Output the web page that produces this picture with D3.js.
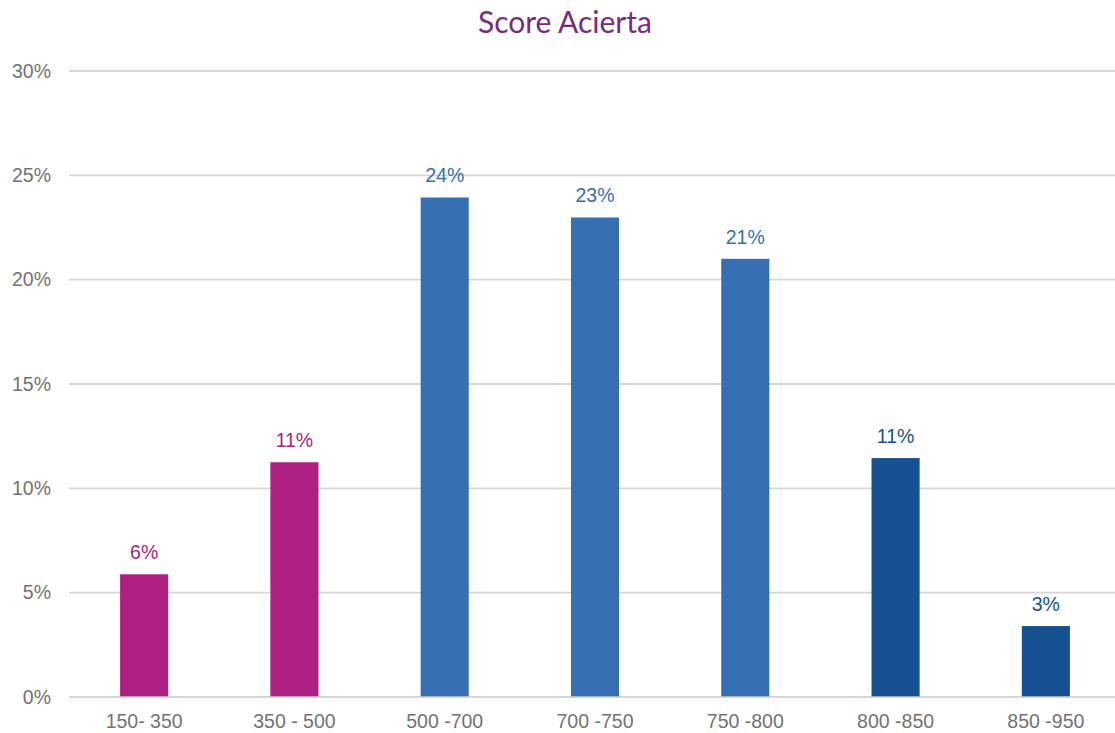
<!DOCTYPE html>
<html>
<head>
<meta charset="utf-8">
<script src="https://cdn.jsdelivr.net/npm/d3@7"></script>
<style>
  body { margin: 0; background: #fff; }
  svg { display: block; }
</style>
</head>
<body>
<div id="chart"></div>
<script>
// chart data
var categories = ['150- 350', '350 - 500', '500 -700', '700 -750', '750 -800', '800 -850', '850 -950'];
var values = [0.0588, 0.1125, 0.2394, 0.2298, 0.2100, 0.1145, 0.034];
var groups = ['low', 'low', 'mid', 'mid', 'mid', 'high', 'high'];
var yTicks = [0, 0.05, 0.10, 0.15, 0.20, 0.25, 0.30];

var width = 1115, height = 733;
var colorScale = d3.scaleOrdinal()
    .domain(['low', 'mid', 'high'])
    .range(['#ae2082', '#3670b3', '#175192']);

var svg = d3.select('#chart').append('svg')
    .attr('width', width)
    .attr('height', height);

var xScale = d3.scaleBand()
    .domain(categories)
    .range([69, 1121])
    .paddingInner(0.68)
    .paddingOuter(0.34);
var yScale = d3.scaleLinear()
    .domain([0, 0.30])
    .range([697, 71]);

// title
svg.append('text')
    .attr('x', 565)
    .attr('y', 33)
    .attr('text-anchor', 'middle')
    .style('font-family', 'Lato, "Open Sans", sans-serif')
    .style('font-size', '30px')
    .style('fill', '#7b2a83')
    .text('Score Acierta');

// grid lines
svg.append('g')
    .selectAll('line')
    .data(yTicks)
    .enter()
    .append('line')
    .attr('x1', 69)
    .attr('x2', 1115)
    .attr('y1', function(d){ return yScale(d); })
    .attr('y2', function(d){ return yScale(d); })
    .attr('stroke', '#d6d6d6')
    .attr('stroke-width', 1.8);

// y axis labels
var yAxis = d3.axisLeft(yScale)
    .tickValues(yTicks)
    .tickFormat(d3.format('.0%'))
    .tickSize(0)
    .tickPadding(0);
var yg = svg.append('g')
    .attr('transform', 'translate(51,0)')
    .call(yAxis);
yg.select('.domain').remove();
yg.selectAll('text')
    .style('font-family', '"Liberation Sans", Arial, sans-serif')
    .style('font-size', '19.5px')
    .style('fill', '#737373');

// bars
svg.append('g')
    .selectAll('rect')
    .data(values)
    .enter()
    .append('rect')
    .attr('x', function(d, i){ return xScale(categories[i]); })
    .attr('y', function(d){ return yScale(d); })
    .attr('width', xScale.bandwidth())
    .attr('height', function(d){ return yScale(0) - yScale(d); })
    .attr('fill', function(d, i){ return colorScale(groups[i]); });

// baseline drawn over bars
svg.append('line')
    .attr('x1', 69)
    .attr('x2', 1115)
    .attr('y1', yScale(0))
    .attr('y2', yScale(0))
    .attr('stroke', '#d6d6d6')
    .attr('stroke-opacity', 0.7)
    .attr('stroke-width', 1.8);

// value labels
svg.append('g')
    .selectAll('text')
    .data(values)
    .enter()
    .append('text')
    .attr('x', function(d, i){ return xScale(categories[i]) + xScale.bandwidth() / 2; })
    .attr('y', function(d){ return yScale(d) - 15; })
    .attr('text-anchor', 'middle')
    .style('font-family', '"Liberation Sans", Arial, sans-serif')
    .style('font-size', '19.5px')
    .style('fill', function(d, i){ return colorScale(groups[i]); })
    .text(function(d){ return Math.round(d * 100) + '%'; });

// x axis labels
var xAxis = d3.axisBottom(xScale)
    .tickSize(0)
    .tickPadding(0);
var xg = svg.append('g')
    .attr('transform', 'translate(0,714)')
    .call(xAxis);
xg.select('.domain').remove();
xg.selectAll('text')
    .style('font-family', '"Liberation Sans", Arial, sans-serif')
    .style('font-size', '19.5px')
    .style('fill', '#737373');
</script>
</body>
</html>
